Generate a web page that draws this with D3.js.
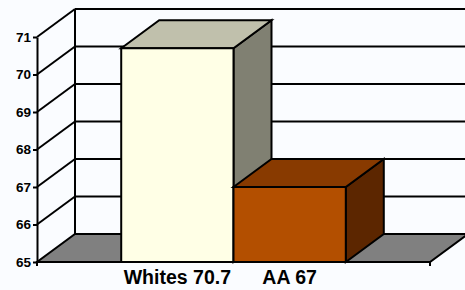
<!DOCTYPE html>
<html>
<head>
<meta charset="utf-8">
<script src="https://cdn.jsdelivr.net/npm/d3@7"></script>
<style>
  body { margin: 0; background: #fafcff; }
  svg { display: block; }
  text { font-family: Arial, "Liberation Sans", sans-serif; font-weight: bold; fill: #000; }
</style>
</head>
<body>
<div id="chart"></div>
<script>
// data
const series = ['Whites', 'AA']
const values = [70.7, 67]
const labels = ['Whites 70.7', 'AA 67']
const yTicks = [65, 66, 67, 68, 69, 70, 71]

const fronts = ['#ffffe6', '#b34f00']
const tops = ['#c0c0ac', '#883a00']
const sides = ['#808072', '#5c2600']

const svgWidth = 465
const svgHeight = 290

// front plane
const plotLeft = 37, plotRight = 430, plotBottom = 262, plotTop = 37
// 3d depth offset
const dx = 38, dy = -28

const svg = d3.select('#chart')
    .append('svg')
    .attr('width', svgWidth)
    .attr('height', svgHeight)

////////////// scales ////////////////
const yScale = d3.scaleLinear()
    .domain([65, 71])
    .range([plotBottom, plotTop])

const catScale = d3.scaleBand()
    .domain(['all'])
    .range([plotLeft, plotRight])

const xScale = d3.scaleBand()
    .domain(series)
    .range([catScale('all'), catScale('all') + catScale.bandwidth()])
    .paddingInner(0)
    .paddingOuter(0.75)

const poly = pts => pts.map(p => p.join(',')).join(' ')
function styled(sel) {
    return sel.attr('stroke', '#000').attr('stroke-width', 2)
}

////////////// walls ////////////////
const y0 = yScale(65), y1 = yScale(71)

// back wall gridlines
styled(svg.selectAll('.grid')
    .data(yTicks.slice(1))
    .join('line')
    .attr('class', 'grid')
    .attr('x1', plotLeft + dx).attr('x2', svgWidth + 10)
    .attr('y1', d => yScale(d) + dy).attr('y2', d => yScale(d) + dy))

// side wall diagonals
styled(svg.selectAll('.diag')
    .data(yTicks.slice(1))
    .join('line')
    .attr('class', 'diag')
    .attr('x1', plotLeft).attr('x2', plotLeft + dx)
    .attr('y1', d => yScale(d)).attr('y2', d => yScale(d) + dy))

// back wall left edge
styled(svg.append('line')
    .attr('x1', plotLeft + dx).attr('x2', plotLeft + dx)
    .attr('y1', y1 + dy).attr('y2', y0 + dy))

// floor
styled(svg.append('polygon')
    .attr('points', poly([[plotLeft, y0], [plotRight, y0], [plotRight + dx, y0 + dy], [plotLeft + dx, y0 + dy]]))
    .attr('fill', '#808080'))

////////////// bars ////////////////
series.forEach((s, i) => {
    const x0 = xScale(s), x1 = x0 + xScale.bandwidth()
    const yt = yScale(values[i])
    const g = svg.append('g')
    // side
    styled(g.append('polygon')
        .attr('points', poly([[x1, yt], [x1 + dx, yt + dy], [x1 + dx, y0 + dy], [x1, y0]]))
        .attr('fill', sides[i]))
    // top
    styled(g.append('polygon')
        .attr('points', poly([[x0, yt], [x0 + dx, yt + dy], [x1 + dx, yt + dy], [x1, yt]]))
        .attr('fill', tops[i]))
    // front
    styled(g.append('rect')
        .attr('x', x0).attr('y', yt)
        .attr('width', x1 - x0).attr('height', y0 - yt)
        .attr('fill', fronts[i]))
})

////////////// axes ////////////////
const yAxis = d3.axisLeft(yScale)
    .tickValues(yTicks)
    .tickFormat(d3.format('d'))
    .tickSize(4)
    .tickSizeOuter(0)
    .tickPadding(2)

const ya = svg.append('g')
    .attr('transform', `translate(${plotLeft},0)`)
    .call(yAxis)
ya.selectAll('path, line').attr('stroke', '#000').attr('stroke-width', 2)
ya.selectAll('text')
    .style('font-size', '13.5px')
    .style('font-weight', 'bold')
    .attr('fill', '#000')

// x axis line + ticks at category edges
styled(svg.append('line')
    .attr('x1', plotLeft - 1).attr('x2', plotRight + 1)
    .attr('y1', y0).attr('y2', y0))

styled(svg.selectAll('.xtick')
    .data(catScale.range())
    .join('line')
    .attr('class', 'xtick')
    .attr('x1', d => d).attr('x2', d => d)
    .attr('y1', y0).attr('y2', y0 + 4))

// labels under bars
svg.selectAll('.xlabel')
    .data(series)
    .join('text')
    .attr('class', 'xlabel')
    .attr('x', d => xScale(d) + xScale.bandwidth() / 2)
    .attr('y', 284)
    .attr('text-anchor', 'middle')
    .style('font-size', '19.5px')
    .text((d, i) => labels[i])
</script>
</body>
</html>
